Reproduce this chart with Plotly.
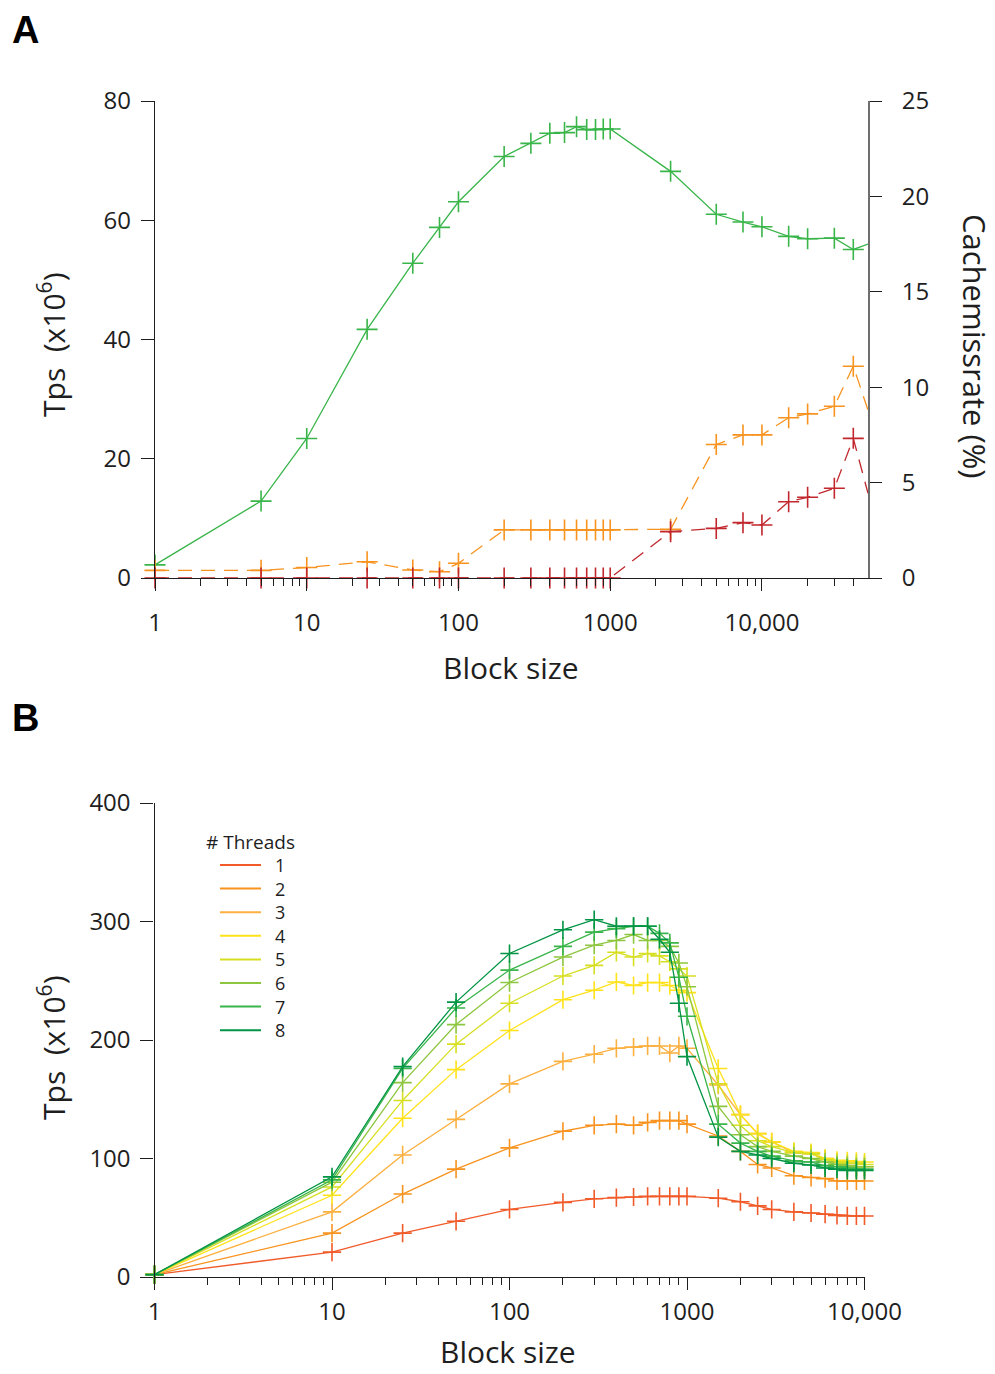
import plotly.graph_objects as go

# ---------------- Panel A: single-thread throughput and cache miss rates ----------------
block_a = [1, 5, 10, 25, 50, 75, 100, 200, 300, 400, 500, 600, 700, 800, 900, 1000,
           2500, 5000, 7500, 10000, 15000, 20000, 30000, 40000, 50000]
tps_a = [2.2, 12.9, 23.4, 41.7, 52.8, 58.8, 63.1, 70.7, 72.9, 74.6, 74.7, 75.7, 75.2, 75.2,
         75.3, 75.3, 68.2, 61.0, 59.7, 58.9, 57.3, 56.9, 57.0, 55.1, 56.0]
miss_rate_1 = [0.4, 0.4, 0.55, 0.85, 0.42, 0.33, 0.77, 2.52, 2.52, 2.52, 2.52, 2.52, 2.52, 2.52,
               2.52, 2.52, 2.55, 7.0, 7.5, 7.5, 8.4, 8.6, 9.0, 11.1, 8.8]
miss_rate_2 = [0, 0, 0, 0, 0, 0, 0, 0, 0, 0, 0, 0, 0, 0, 0, 0,
               2.43, 2.6, 2.9, 2.78, 4.0, 4.23, 4.7, 7.32, 4.44]

# ---------------- Panel B: throughput per thread count ----------------
block_b = [1, 10, 25, 50, 100, 200, 300, 400, 500, 600, 700, 800, 900, 1000,
           1500, 2000, 2500, 3000, 4000, 5000, 6000, 7000, 8000, 9000, 10000]
threads = ["1", "2", "3", "4", "5", "6", "7", "8"]
tps_t1 = [2, 21, 37, 47, 57, 63, 66, 67, 67.5, 68, 68, 68, 68, 68,
          66.5, 63.5, 60, 57, 55, 54, 53, 52, 51.5, 51.5, 51.5]
tps_t2 = [2, 37, 70, 91, 109, 123, 128, 129, 128, 130.5, 132, 132, 132, 129,
          119, 106, 95, 92, 85.5, 84, 83, 81, 81, 81, 81]
tps_t3 = [2, 55, 103, 133, 163, 182, 188, 193, 194, 195, 195, 189, 195, 193,
          162, 137, 121, 114, 105, 104, 100, 97, 94, 93, 93]
tps_t4 = [2, 69, 134, 175, 208, 234, 242, 249, 246, 248.5, 248.5, 246, 242, 240,
          176, 137, 121, 114, 106, 105, 100, 98.5, 98, 97.5, 97]
tps_t5 = [2, 76, 149, 196.5, 231, 254, 263, 274, 270, 273, 271, 266, 260, 254,
          163, 128, 115, 110, 105, 104, 99, 97, 96, 96, 95]
tps_t6 = [2, 80, 164, 213, 248.5, 270, 280, 284, 289, 284, 284, 279, 265, 245,
          144, 120, 110, 106, 102, 100, 97, 95, 94, 93, 93]
tps_t7 = [2, 82, 176, 227, 259, 279, 291, 294, 296, 296, 290, 282, 253, 220,
          129, 113, 106, 102, 98, 97, 94, 93, 92, 91, 91]
tps_t8 = [2, 84.5, 177.5, 232, 273, 293, 301.5, 296, 296, 296, 285, 274, 231, 186,
          118, 106, 103, 100, 96, 94.5, 92, 91, 90, 90, 90]
tps_by_threads = [tps_t1, tps_t2, tps_t3, tps_t4, tps_t5, tps_t6, tps_t7, tps_t8]
thread_colors = ["#f15a29", "#f7931e", "#fbb040", "#ffe21a", "#d7df23", "#8dc63f", "#39b54a", "#009444"]

# Axis tick labels
major_a = [1, 10, 100, 1000, 10000]
major_a_text = ["1", "10", "100", "1000", "10,000"]
major_b_text = ["1", "10", "100", "1000", "10,000"]

GREEN, ORANGE, RED = "#39b54a", "#f7931e", "#c1272d"
INK = "#1e1e1e"
FONT = "Open Sans"

W, H = 995, 1374


def fx(p):
    return p / W


def fy(p):
    return 1 - p / H


def minor_ticks(last):
    vals = []
    dec = 1
    while dec < last:
        for k in range(2, 10):
            v = k * dec
            if v < last:
                vals.append(v)
        dec *= 10
    return vals


def cross(color, size):
    return dict(symbol="cross-thin", size=size, line=dict(width=1.6, color=color))


fig = go.Figure()

# Panel A traces
fig.add_trace(go.Scatter(x=block_a, y=tps_a, mode="lines+markers", xaxis="x", yaxis="y",
                         line=dict(color=GREEN, width=1.3), marker=cross(GREEN, 15),
                         cliponaxis=False, showlegend=False))
fig.add_trace(go.Scatter(x=block_a, y=miss_rate_1, mode="lines+markers", xaxis="x", yaxis="y2",
                         line=dict(color=ORANGE, width=1.3, dash="14px,9px"), marker=cross(ORANGE, 15),
                         cliponaxis=False, showlegend=False))
fig.add_trace(go.Scatter(x=block_a, y=miss_rate_2, mode="lines+markers", xaxis="x", yaxis="y2",
                         line=dict(color=RED, width=1.3, dash="14px,9px"), marker=cross(RED, 15),
                         cliponaxis=False, showlegend=False))

# Panel B traces
for name, vals, col in zip(threads, tps_by_threads, thread_colors):
    fig.add_trace(go.Scatter(x=block_b, y=vals, mode="lines+markers", xaxis="x2", yaxis="y3",
                             name=name, line=dict(color=col, width=1.3), marker=cross(col, 13),
                             cliponaxis=False, showlegend=False))

tickfont = dict(family=FONT, size=24, color=INK)
axis_common = dict(showgrid=False, zeroline=False, showline=True, ticks="outside",
                   tickfont=tickfont, fixedrange=True, automargin=False)

fig.update_layout(
    width=W, height=H,
    margin=dict(l=0, r=0, t=0, b=0, autoexpand=False),
    paper_bgcolor="white", plot_bgcolor="white",
    font=dict(family=FONT, color=INK),
    xaxis=dict(type="log", range=[0, 4.69897], domain=[fx(155), fx(868)], anchor="y",
               tickvals=major_a, ticktext=major_a_text, ticklen=12, tickwidth=1.3,
               linecolor=INK, linewidth=1.3, tickcolor=INK, ticklabelstandoff=11,
               minor=dict(tickvals=minor_ticks(50000), ticklen=7, tickwidth=1.3, tickcolor=INK,
                          ticks="outside"),
               **axis_common),
    yaxis=dict(range=[0, 80], domain=[fy(578), fy(101)], anchor="x",
               tickvals=[0, 20, 40, 60, 80], ticklen=13, tickwidth=1.3,
               linecolor=INK, linewidth=1.3, tickcolor=INK, ticklabelstandoff=5,
               **axis_common),
    yaxis2=dict(range=[0, 25], overlaying="y", side="right", anchor="x",
                tickvals=[0, 5, 10, 15, 20, 25], ticklen=12, tickwidth=1.3,
                linecolor="#6e6e6e", linewidth=2, tickcolor=INK, ticklabelstandoff=15,
                **axis_common),
    xaxis2=dict(type="log", range=[0, 4], domain=[fx(154.5), fx(864.5)], anchor="y3",
                tickvals=major_a, ticktext=major_b_text, ticklen=12, tickwidth=1.3,
                linecolor=INK, linewidth=1.3, tickcolor=INK, ticklabelstandoff=1,
                minor=dict(tickvals=minor_ticks(10000), ticklen=7, tickwidth=1.3, tickcolor=INK,
                           ticks="outside"),
                **axis_common),
    yaxis3=dict(range=[0, 400], domain=[fy(1277), fy(803)], anchor="x2",
                tickvals=[0, 100, 200, 300, 400], ticklen=13, tickwidth=1.3,
                linecolor=INK, linewidth=1.3, tickcolor=INK, ticklabelstandoff=5,
                **axis_common),
)

title_font = dict(family=FONT, size=30, color=INK)
annotations = [
    dict(text="A", x=fx(10), y=fy(30), xanchor="left", yanchor="middle",
         font=dict(family="Liberation Sans", size=38, color="black", weight="bold")),
    dict(text="B", x=fx(10), y=fy(718), xanchor="left", yanchor="middle",
         font=dict(family="Liberation Sans", size=38, color="black", weight="bold")),
    dict(text="Tps  (x10<sup>6</sup>)", x=fx(52), y=fy(345), textangle=-90,
         xanchor="center", yanchor="middle", font=title_font),
    dict(text="Cachemissrate (%)", x=fx(975), y=fy(346), textangle=90,
         xanchor="center", yanchor="middle", font=dict(family=FONT, size=31, color=INK)),
    dict(text="Block size", x=fx(511), y=fy(668), xanchor="center", yanchor="middle", font=title_font),
    dict(text="Tps  (x10<sup>6</sup>)", x=fx(52), y=fy(1048), textangle=-90,
         xanchor="center", yanchor="middle", font=title_font),
    dict(text="Block size", x=fx(508), y=fy(1373), xanchor="center", yanchor="bottom",
         borderpad=0, font=title_font),
    dict(text="# Threads", x=fx(204), y=fy(842), xanchor="left", yanchor="middle",
         font=dict(family=FONT, size=19, color=INK)),
]

# Thread-count key
shapes = []
for i, (name, col) in enumerate(zip(threads, thread_colors)):
    yy = fy(865 + 23.6 * i)
    shapes.append(dict(type="line", xref="paper", yref="paper", x0=fx(220), x1=fx(261),
                       y0=yy, y1=yy, line=dict(color=col, width=2)))
    annotations.append(dict(text=name, x=fx(280), y=yy, xanchor="center", yanchor="middle",
                            font=dict(family=FONT, size=18, color=INK)))

for a in annotations:
    a.update(xref="paper", yref="paper", showarrow=False)

fig.update_layout(annotations=annotations, shapes=shapes)

fig.write_html("out.html")
